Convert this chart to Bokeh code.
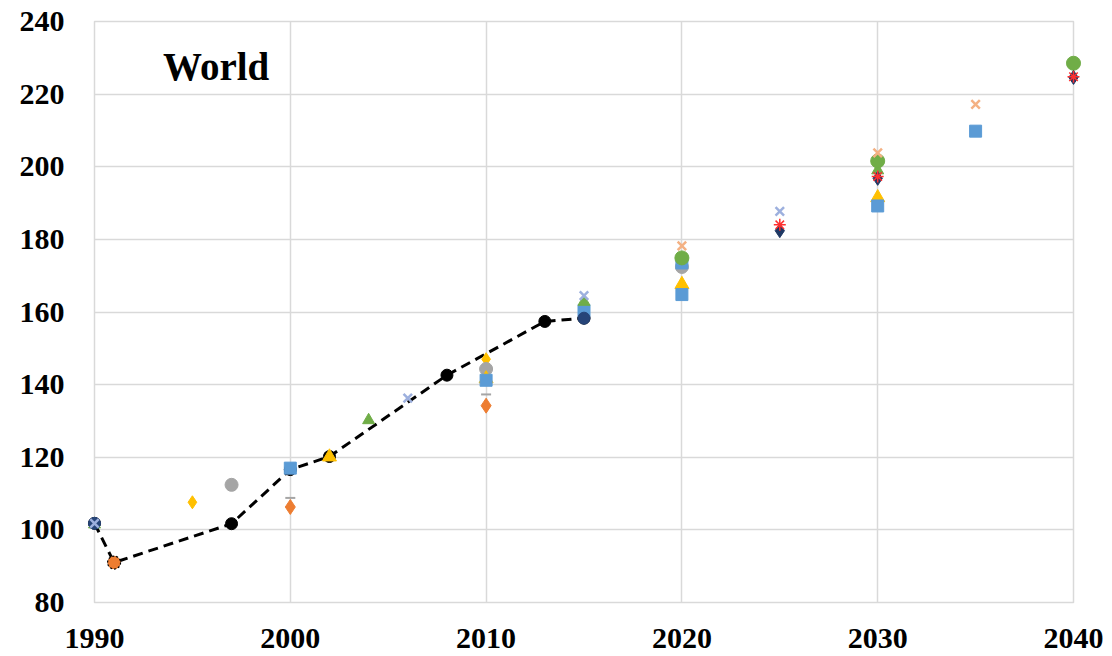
from bokeh.plotting import figure
from bokeh.models import Label, FixedTicker, Range1d
from bokeh.embed import file_html
from bokeh.resources import INLINE

# ---- data ----
hist_years = [1990, 1991, 1997, 2000, 2002, 2008, 2013, 2015]
hist_vals = [101.8, 91.0, 101.7, 116.6, 120.2, 142.6, 157.4, 158.3]

orange_circle_years = [1991]
orange_circle_vals = [91.0]

orange_diamond_years = [2000, 2010]
orange_diamond_vals = [106.3, 134.2]

yellow_diamond_years = [1995, 2010]
yellow_diamond_vals = [107.6, 147.0]

grey_circle_years = [1997, 2010, 2020]
grey_circle_vals = [112.4, 144.3, 172.4]

grey_dash_years = [2000, 2010]
grey_dash_vals = [108.8, 137.3]

blue_sq_a_years = [2000, 2010, 2015, 2020]
blue_sq_a_vals = [117.0, 141.2, 160.4, 173.5]

blue_sq_b_years = [2020, 2030, 2035]
blue_sq_b_vals = [164.8, 189.2, 209.8]

yellow_tri_years = [2002, 2010, 2020, 2030]
yellow_tri_vals = [120.1, 141.6, 167.6, 191.5]

green_tri_years = [1990, 2004, 2015, 2030]
green_tri_vals = [101.5, 130.2, 162.8, 199.0]

lightblue_x_years = [1990, 2006, 2015, 2025]
lightblue_x_vals = [101.8, 136.3, 164.5, 187.7]

navy_circle_years = [1990, 2015]
navy_circle_vals = [101.8, 158.3]

green_circle_years = [2020, 2030, 2040]
green_circle_vals = [174.9, 201.6, 228.5]

salmon_x_years = [2020, 2030, 2035]
salmon_x_vals = [178.2, 203.8, 217.2]

navy_diamond_years = [2025, 2030, 2040]
navy_diamond_vals = [182.4, 196.8, 224.6]

red_x_years = [2025, 2030, 2040]
red_x_vals = [184.0, 197.3, 224.8]

x_ticks = [1990, 2000, 2010, 2020, 2030, 2040]
y_ticks = [80, 100, 120, 140, 160, 180, 200, 220, 240]
title_text = "World"

FONT = "Liberation Serif"

p = figure(width=1108, height=656, output_backend="svg", toolbar_location=None,
           x_range=Range1d(1990, 2040), y_range=Range1d(80, 240),
           min_border_left=94, min_border_right=35, min_border_top=21,
           min_border_bottom=54)

p.outline_line_color = "#D9D9D9"
p.outline_line_width = 1.5
p.background_fill_color = "white"
p.border_fill_color = "white"

for ax in (p.xaxis[0], p.yaxis[0]):
    ax.axis_line_color = None
    ax.major_tick_line_color = None
    ax.minor_tick_line_color = None
    ax.major_label_text_font = FONT
    ax.major_label_text_font_style = "bold"
    ax.major_label_text_font_size = "30px"
    ax.major_label_text_color = "black"

p.xaxis[0].ticker = FixedTicker(ticks=x_ticks)
p.yaxis[0].ticker = FixedTicker(ticks=y_ticks)
p.xaxis[0].major_label_standoff = 20
p.yaxis[0].major_label_standoff = 24

p.xgrid.grid_line_color = "#D9D9D9"
p.ygrid.grid_line_color = "#D9D9D9"
p.xgrid.grid_line_width = 1.5
p.ygrid.grid_line_width = 1.5

LV = "overlay"

# historical dashed line
p.line(hist_years, hist_vals, line_color="black", line_width=3, line_dash="10 6")
p.scatter(hist_years, hist_vals, marker="circle", size=12, fill_color="black",
          line_color="black", level=LV)

p.scatter(orange_circle_years, orange_circle_vals, marker="circle", size=13,
          fill_color="#ED7D31", line_color="black", line_dash="2 2", line_width=1.2, level=LV)
p.scatter(orange_diamond_years, orange_diamond_vals, marker="diamond", size=15,
          fill_color="#ED7D31", line_color="#ED7D31", level=LV)
p.scatter(yellow_diamond_years, yellow_diamond_vals, marker="diamond", size=13,
          fill_color="#FFC000", line_color="#FFC000", level=LV)
p.scatter(grey_circle_years, grey_circle_vals, marker="circle", size=13,
          fill_color="#A5A5A5", line_color="#A5A5A5", level=LV)
p.scatter(grey_dash_years, grey_dash_vals, marker="dash", size=10,
          line_color="#A5A5A5", line_width=2, level=LV)
p.scatter(yellow_tri_years, yellow_tri_vals, marker="triangle", size=14,
          fill_color="#FFC000", line_color="#FFC000", level=LV)
p.scatter(blue_sq_a_years, blue_sq_a_vals, marker="square", size=12,
          fill_color="#5B9BD5", line_color="#5B9BD5", level=LV)
p.scatter(blue_sq_b_years, blue_sq_b_vals, marker="square", size=12,
          fill_color="#5B9BD5", line_color="#5B9BD5", level=LV)
p.scatter(green_tri_years, green_tri_vals, marker="triangle", size=12,
          fill_color="#70AD47", line_color="#70AD47", level=LV)
p.scatter(navy_circle_years, navy_circle_vals, marker="circle", size=12,
          fill_color="#264478", line_color="#264478", level=LV)
p.scatter(lightblue_x_years, lightblue_x_vals, marker="x", size=12,
          line_color="#9DB0DE", line_width=2.5, level=LV)
p.scatter(green_circle_years, green_circle_vals, marker="circle", size=14,
          fill_color="#70AD47", line_color="#70AD47", level=LV)
p.scatter(salmon_x_years, salmon_x_vals, marker="x", size=12,
          line_color="#F4B183", line_width=2.5, level=LV)
p.scatter(navy_diamond_years, navy_diamond_vals, marker="diamond", size=14,
          fill_color="#1F3864", line_color="#1F3864", level=LV)
p.scatter(red_x_years, red_x_vals, marker="asterisk", size=12,
          line_color="#FF3030", line_width=1.5, level=LV)

p.add_layout(Label(x=1993.5, y=227.6, text=title_text, text_font=FONT,
                   text_font_style="bold", text_font_size="39px",
                   text_color="black", text_baseline="alphabetic"))

open("out.html", "w").write(file_html(p, INLINE))
